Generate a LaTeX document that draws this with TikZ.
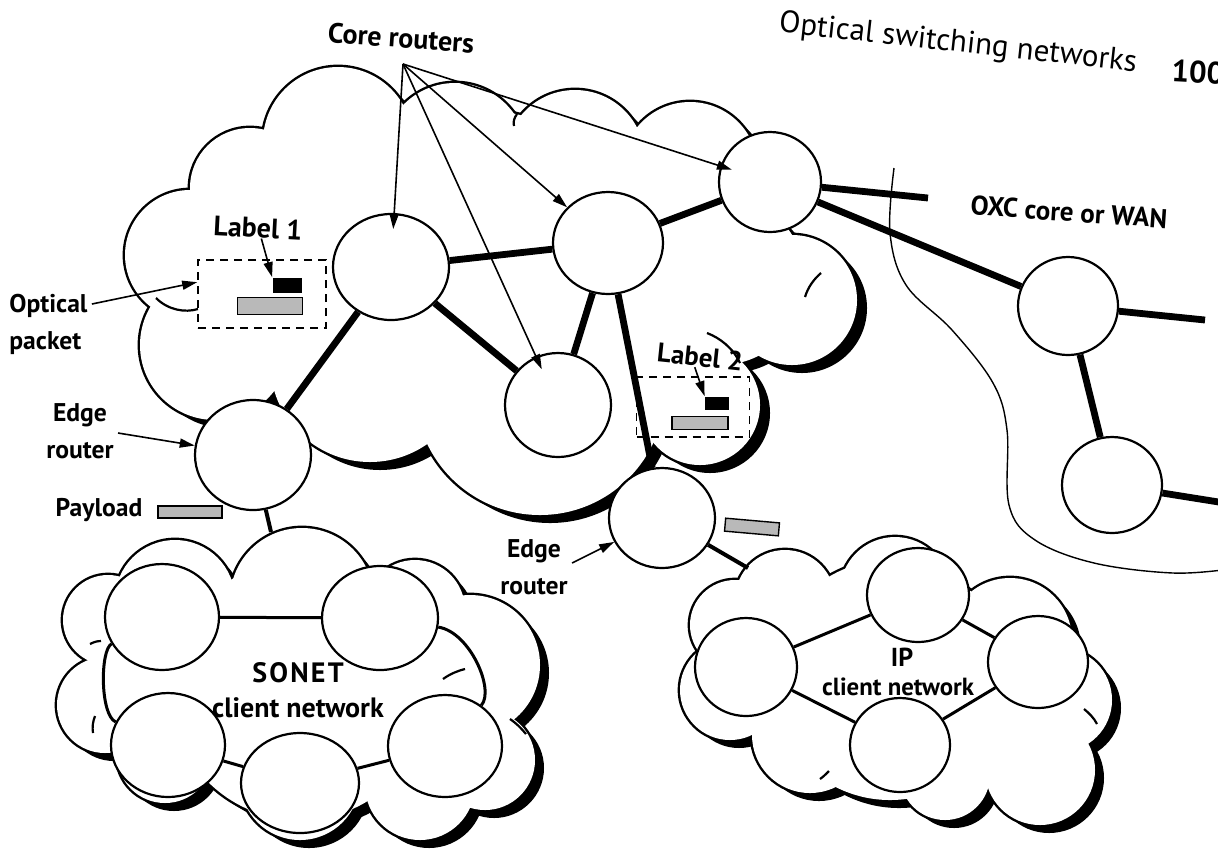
\documentclass[tikz,border=0pt]{standalone}
\usepackage{fontspec}
\setmainfont{PT Sans}
\usetikzlibrary{shapes.geometric,arrows.meta,calc}

% A cloud is a union of discs: black shadow discs, a wide outline, then a white fill
\newcommand\drawcloud[3]{%
  \foreach \cx/\cy/\r in {#1} \fill[black] (\cx+#2,\cy+#3) circle[radius=\r];
  \foreach \cx/\cy/\r in {#1} \draw[line width=2.4pt] (\cx,\cy) circle[radius=\r];
  \foreach \cx/\cy/\r in {#1} \fill[white] (\cx,\cy) circle[radius=\r];
}

\begin{document}
\begin{tikzpicture}[x=0.5pt,y=-0.5pt,
  router/.style={ellipse,draw,fill=white,line width=1.1pt,inner sep=0pt},
  sz/.style 2 args={minimum width=#1pt,minimum height=#2pt},
  trunk/.style={line width=3.4pt},
  ringlink/.style={line width=1.5pt},
  feeder/.style={line width=2pt},
  fold/.style={line width=1.1pt},
  pointer/.style={line width=0.8pt,-{Triangle[length=7.5pt,width=4.5pt]}},
  lbl/.style={font=\fontsize{12.8}{18.5}\selectfont\bfseries,inner sep=1pt,align=center},
  paybar/.style={draw,line width=0.7pt,fill=gray!55,inner sep=0pt},
  labbar/.style={fill=black,inner sep=0pt},
  pkt/.style={draw,line width=0.8pt,dash pattern=on 4pt off 3pt,inner sep=0pt}
]
\useasboundingbox (0,0) rectangle (1218,848);
\clip (0,0) rectangle (1218,848);

% ---- clouds ----
\drawcloud{250/188/60, 338/142/75, 455/155/72, 575/160/70, 690/170/68, 720/280/85,
  792/300/65, 700/405/60, 690/330/50, 540/390/125, 370/362/100, 215/345/75,
  190/255/65, 290/280/60, 480/270/160, 320/225/40, 640/300/50}{10}{8}
\drawcloud{302/600/72, 175/600/60, 108/620/45, 105/705/48, 165/755/48, 300/780/60,
  420/785/55, 485/760/50, 470/665/70, 415/610/50, 300/690/130, 170/690/60}{9}{8}
\drawcloud{785/600/50, 895/592/55, 1010/640/62, 1060/700/52, 1040/770/55, 945/775/45,
  810/735/58, 730/690/50, 735/625/45, 890/680/120, 1000/720/50}{9}{8}

% inner folds of the clouds
\draw[fold] (707,333) .. controls (720,338) and (733,348) .. (740,363);
\draw[fold] (156,298) .. controls (168,310) and (185,313) .. (198,309);
\draw[fold] (805,297) .. controls (808,287) and (814,279) .. (821,273);
\draw[fold] (514,126) .. controls (513,122) and (514,118) .. (517,114);
\draw[fold] (101,641) .. controls (97,641) and (94,642) .. (90,644);
\draw[fold] (95,716) .. controls (93,721) and (92,727) .. (93,733);
\draw[fold] (443,679) .. controls (450,674) and (457,671) .. (465,669);
\draw[fold] (510,719) .. controls (516,723) and (521,728) .. (526,734);
\draw[fold] (1084,709) .. controls (1089,713) and (1094,718) .. (1097,724);
\draw[fold] (829,771) .. controls (826,774) and (823,777) .. (820,779);

% boundary of the OXC core
\draw[line width=0.7pt] plot[smooth,tension=0.6] coordinates {(894,168) (890,233) (906,285)
  (952,330) (993,383) (1007,430) (1009,505) (1035,540) (1094,563) (1173,573) (1230,569)};

% ---- routers ----
\node[router,sz={58}{53}] (R1) at (391,267) {};
\node[router,sz={55}{51}] (R2) at (608,243) {};
\node[router,sz={51}{50}] (R3) at (770,182) {};
\node[router,sz={53}{52}] (R4) at (558,405) {};
\node[router,sz={58}{55}] (E1) at (253,455) {};
\node[router,sz={53}{50}] (E2) at (662,518) {};
\node[router,sz={50}{49}] (O1) at (1068,306) {};
\node[router,sz={50}{48}] (O2) at (1112,485) {};

\node[router,sz={57}{53}] (S1) at (162,617) {};
\node[router,sz={58}{52}] (S2) at (380,618) {};
\node[router,sz={57}{52}] (S3) at (168,745) {};
\node[router,sz={59}{50}] (S4) at (300,783) {};
\node[router,sz={57}{51}] (S5) at (445,746) {};

\node[router,sz={51}{47}] (P1) at (918,595) {};
\node[router,sz={51}{49}] (P2) at (746,667) {};
\node[router,sz={50}{46}] (P3) at (1038,662) {};
\node[router,sz={50}{47}] (P4) at (900,745) {};

% free ends of links
\coordinate (stub3) at (928,198);
\coordinate (stubO1) at (1205,320);
\coordinate (stubO2) at (1225,503);
\coordinate (sonin) at (271,532);
\coordinate (ipin) at (748,568);
\coordinate (apex) at (403,64);

% ---- links ----
\draw[trunk] (R1) -- (R2);
\draw[trunk] (R1) -- (R4);
\draw[trunk] (R1) -- (E1);
\draw[trunk] (R2) -- (R4);
\draw[trunk] (R2) -- (R3);
\draw[trunk] (R2) -- (E2);
\draw[trunk] (R3) -- (stub3);
\draw[trunk] (R3) -- (O1);
\draw[trunk] (O1) -- (stubO1);
\draw[trunk] (O1) -- (O2);
\draw[trunk] (O2) -- (stubO2);
\draw[feeder] (E1) -- (sonin);
\draw[feeder] (E2) -- (ipin);

\draw[ringlink] (S1) -- (S2);
\draw[ringlink] (S2) .. controls (470,632) and (495,690) .. (S5);
\draw[ringlink] (S5) -- (S4);
\draw[ringlink] (S4) -- (S3);
\draw[ringlink] (S3) .. controls (100,715) and (100,650) .. (S1);

\draw[ringlink] (P1) -- (P2);
\draw[ringlink] (P1) -- (P3);
\draw[ringlink] (P2) -- (P4);
\draw[ringlink] (P3) -- (P4);

% ---- packets ----
\node[pkt,minimum width=64pt,minimum height=34pt] (pk1) at (262,294) {};
\node[labbar,minimum width=14.5pt,minimum height=7.5pt] (bar1) at (287,285) {};
\node[paybar,minimum width=32.5pt,minimum height=8.5pt] (gray1) at (270,306) {};

\node[pkt,minimum width=56.5pt,minimum height=30pt] (pk2) at (693,407) {};
\node[labbar,minimum width=12pt,minimum height=6.5pt] (bar2) at (717,403) {};
\node[paybar,minimum width=28pt,minimum height=6.5pt] (gray2) at (700,423) {};

\node[paybar,minimum width=32pt,minimum height=6pt] (pay1) at (190,512) {};
\node[paybar,minimum width=27pt,minimum height=6.5pt,rotate=-5] (pay2) at (752,527) {};

% ---- texts ----
\node[lbl,font=\fontsize{14}{16}\selectfont\bfseries,rotate=-4] (corelbl) at (401,38) {Core routers};
\node[lbl,font=\fontsize{15.5}{18}\selectfont,rotate=-6.3] (title) at (958,44) {Optical switching networks};
\node[lbl,font=\fontsize{15.5}{18}\selectfont\bfseries,rotate=-3] (pageno) at (1198,72) {100};
\node[lbl,font=\fontsize{13.5}{16}\selectfont\bfseries,rotate=-4] (oxc) at (1069,212) {OXC core or WAN};
\node[lbl,font=\fontsize{14}{16}\selectfont\bfseries,rotate=-3] (lab1) at (258,228) {Label 1};
\node[lbl,font=\fontsize{13.5}{16}\selectfont\bfseries,rotate=-6] (lab2) at (700,357) {Label 2};
\node[lbl,align=left,anchor=west] (optpk) at (7,324) {Optical\\packet};
\node[lbl] (edge1) at (80,431) {Edge\\router};
\node[lbl] (payl) at (99,510) {Payload};
\node[lbl] (edge2) at (534,567) {Edge\\router};
\node[lbl,font=\fontsize{14}{16}\selectfont\bfseries] (sonet) at (298,673) {\addfontfeatures{LetterSpace=8}SONET};
\node[lbl,font=\fontsize{14}{16}\selectfont\bfseries] (sonet2) at (298,708) {client network};
\node[lbl,font=\fontsize{13}{16}\selectfont\bfseries] (ip) at (902,657) {IP};
\node[lbl,font=\fontsize{12.4}{14}\selectfont\bfseries] (ip2) at (898,687) {client network};

% ---- pointers ----
\draw[pointer,shorten >=-8pt] (apex) -- (R1);
\draw[pointer] (apex) -- (R2);
\draw[pointer,shorten >=-6pt] (apex) -- (R3);
\draw[pointer,shorten >=-7pt] (apex) -- (R4);
\draw[pointer] ($(optpk.east)+(2,-20)$) -- ($(pk1.north west)!0.33!(pk1.south west)$);
\draw[pointer] ($(edge1.east)+(2,2)$) -- (E1);
\draw[pointer] ($(edge2.east)+(2,-4)$) -- (E2);
\draw[pointer] ($(lab1.south)+(4,-2)$) -- (bar1.north west);
\draw[pointer] ($(lab2.south)+(-4,-2)$) -- (bar2.north west);
\end{tikzpicture}
\end{document}
